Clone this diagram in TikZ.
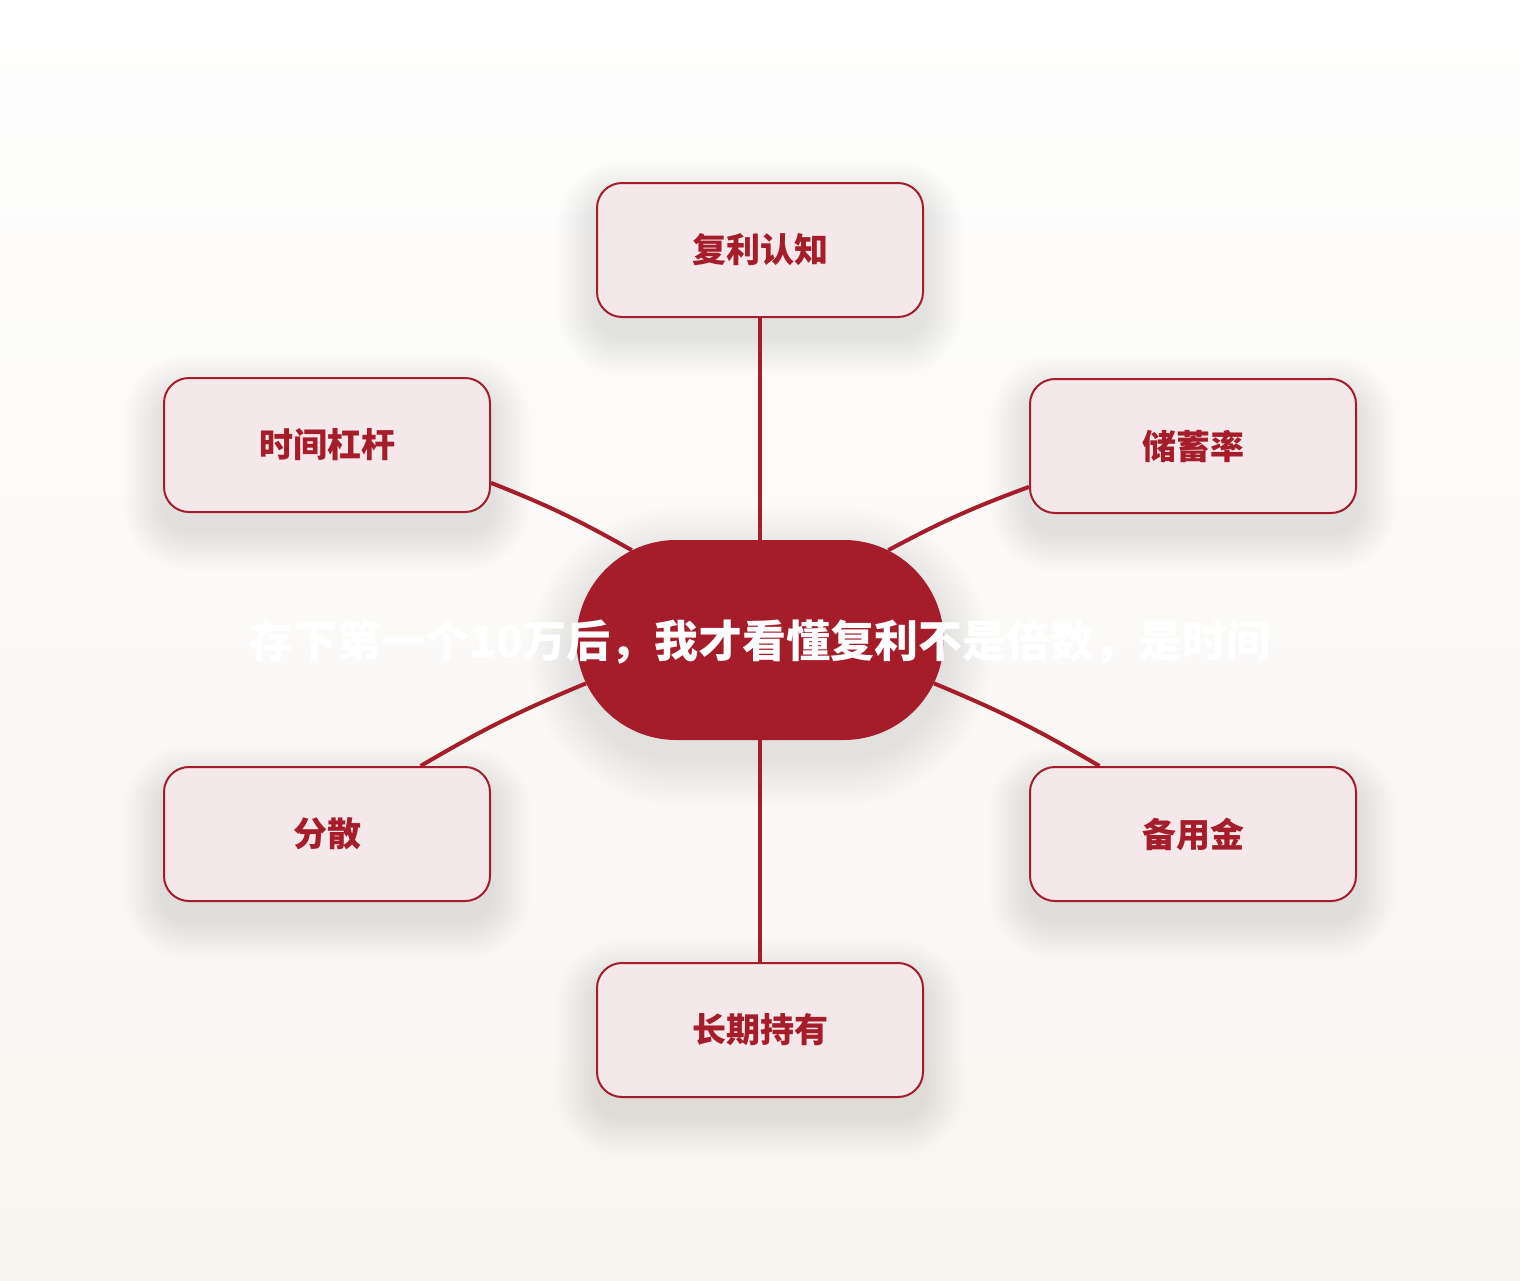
\documentclass[tikz,border=0pt]{standalone}
\usepackage{fontspec}
\newfontfamily\cjk{Noto Sans CJK SC}
\usepackage{xcolor}
\usepackage{tikz}
\usetikzlibrary{calc, shapes.misc, backgrounds}
\pgfdeclarelayer{paper}
\pgfsetlayers{paper,background,main}
\definecolor{hubRed}{HTML}{A51C2B}
\definecolor{leafPink}{HTML}{F5E8EB}
\definecolor{paperTop}{HTML}{FEFEFE}
\definecolor{paperBot}{HTML}{F8F5F0}
\tikzset{
  leaf/.style={draw=hubRed, line width=2pt, fill=leafPink, rounded corners=25pt,
    minimum width=326pt, minimum height=134pt, text=hubRed,
    font=\cjk\bfseries\fontsize{34}{40}\selectfont},
  hub/.style={rounded rectangle, fill=hubRed, minimum width=374pt, minimum height=200pt},
  haze/.style={fill=black, opacity=0.009, draw=none},
  headline/.style={text=white, font=\cjk\bfseries\fontsize{44}{52}\selectfont, inner sep=0pt},
  link/.style={draw=hubRed, line width=4pt}
}
% soft shadow under a box: #1 node, #2 corner radius
\newcommand{\dropshadow}[2]{%
  \foreach \s [evaluate=\s as \r using #2+\s] in {3,6,...,39}
    \fill[haze, rounded corners=\r pt]
      ($ (#1.north west) + (-\s,-\s+18) $) rectangle ($ (#1.south east) + (\s,\s+18) $);
}

\begin{document}
\begin{tikzpicture}[x=1pt, y=-1pt]
  \begin{pgfonlayer}{paper}
    \shade[top color=paperTop, bottom color=paperBot] (0,0) rectangle (1520,1280);
  \end{pgfonlayer}
  \useasboundingbox (0,0) rectangle (1520,1280);

  \node[hub] (hub) at (760,640) {};
  \node[leaf] (compound) at (760,250) {\raisebox{-3pt}{复利认知}};
  \node[leaf] (leverage) at (327,445) {\raisebox{-3pt}{时间杠杆}};
  \node[leaf] (saving)   at (1193,446) {\raisebox{-3pt}{储蓄率}};
  \node[leaf] (spread)   at (327,834) {\raisebox{-3pt}{分散}};
  \node[leaf] (reserve)  at (1193,834) {\raisebox{-3pt}{备用金}};
  \node[leaf] (holding)  at (760,1030) {\raisebox{-3pt}{长期持有}};
  \node[headline] (title) at ($ (hub) + (0,2) $) {存下第一个10万后，我才看懂复利不是倍数，是时间};

  \begin{scope}[on background layer]
    \foreach \s in {4,8,...,48}
      \node[haze, rounded rectangle, minimum width=374pt+2*\s pt, minimum height=200pt+2*\s pt]
        at ($ (hub) + (0,16) $) {};
    \foreach \n in {compound, leverage, saving, spread, reserve, holding}
      \dropshadow{\n}{25}
    \draw[link] (hub) -- (compound);
    \draw[link] (hub) -- (holding);
    \draw[link] (leverage.-13) to[bend left=4] (hub.145);
    \draw[link] (saving.194) to[bend right=4] (hub.35);
    \draw[link] (spread.36) to[bend left=4] (hub.194);
    \draw[link] (reserve.144) to[bend right=4] (hub.-14);
  \end{scope}
\end{tikzpicture}
\end{document}
